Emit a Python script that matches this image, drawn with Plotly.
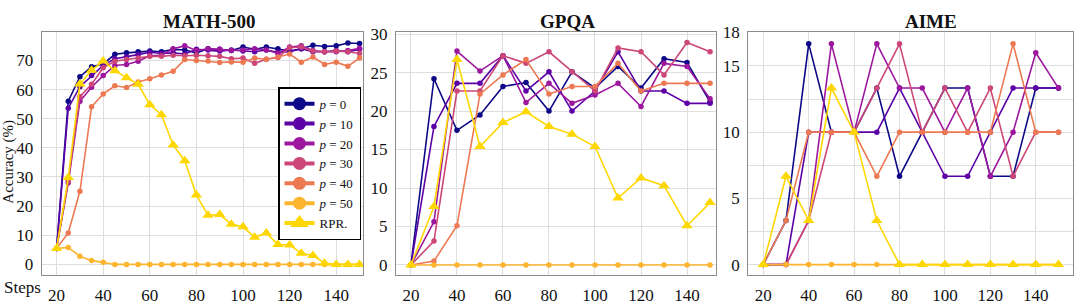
import plotly.graph_objects as go

# ---------------- data ----------------
steps_math = list(range(20, 155, 5))
steps_gpqa = list(range(20, 160, 10))
steps_aime = list(range(20, 160, 10))

series_names = ["<i>p</i> = 0", "<i>p</i> = 10", "<i>p</i> = 20", "<i>p</i> = 30",
                "<i>p</i> = 40", "<i>p</i> = 50", "RPR."]
colors = ["#0d0887", "#5c01a6", "#9c179e", "#cc4778", "#ed7953", "#fdb42f", "#ffd700"]

math_p0 = [5.5, 56.0, 64.4, 67.8, 68.8, 72.1, 72.6, 73.0, 73.2, 73.0, 73.8, 73.6, 72.6, 74.0,
           73.8, 73.4, 74.6, 73.8, 74.6, 74.0, 73.2, 74.0, 75.2, 74.8, 75.0, 76.0, 75.8]
math_p10 = [5.5, 53.6, 61.0, 64.8, 68.3, 70.6, 71.2, 72.0, 72.8, 72.4, 72.6, 72.2, 73.8, 73.6,
            73.2, 73.6, 73.2, 73.0, 73.6, 72.8, 73.0, 74.0, 73.0, 73.0, 73.4, 73.0, 73.8]
math_p20 = [5.5, 28.0, 56.0, 60.8, 64.8, 68.3, 68.6, 69.7, 71.6, 71.8, 74.0, 75.0, 73.4, 74.0,
            73.8, 73.4, 73.6, 74.0, 73.6, 72.4, 74.6, 75.0, 73.4, 73.0, 73.0, 73.4, 74.2]
math_p30 = [5.5, 28.5, 57.6, 61.8, 67.5, 69.7, 70.3, 70.8, 71.4, 71.4, 71.8, 71.6, 71.8, 71.6,
            71.4, 70.6, 70.8, 69.0, 70.4, 71.0, 74.4, 74.6, 73.2, 73.0, 73.2, 73.0, 72.4]
math_p40 = [5.5, 10.8, 25.1, 54.1, 58.5, 61.3, 60.7, 62.6, 63.7, 65.0, 66.3, 70.3, 70.0, 69.8,
            69.3, 69.5, 69.4, 70.8, 70.4, 71.2, 72.2, 69.4, 71.2, 68.6, 69.4, 68.0, 70.8]
math_p50 = [5.5, 5.8, 2.8, 1.3, 0.7, 0, 0, 0, 0, 0, 0, 0, 0, 0,
            0, 0, 0, 0, 0, 0, 0, 0, 0, 0, 0, 0, 0]
math_rpr = [5.5, 29.8, 61.9, 66.6, 69.8, 66.5, 64.1, 61.8, 54.8, 51.4, 41.0, 35.6, 23.8, 16.9,
            17.1, 13.8, 12.9, 9.3, 10.8, 6.8, 6.7, 3.8, 3.1, 0.4, 0, 0, 0]

gpqa_p0 = [0, 24.2, 17.5, 19.5, 23.2, 23.7, 20.0, 25.1, 23.0, 25.8, 23.0, 26.8, 26.3, 21.2]
gpqa_p10 = [0, 18.0, 23.6, 23.6, 27.2, 22.6, 25.1, 20.0, 22.6, 27.7, 22.6, 22.6, 21.0, 21.0]
gpqa_p20 = [0, 5.6, 27.8, 25.2, 27.2, 21.1, 23.6, 21.0, 22.1, 23.6, 20.6, 26.2, 25.8, 21.6]
gpqa_p30 = [0, 3.1, 22.6, 22.6, 27.2, 26.2, 27.7, 25.1, 22.6, 28.2, 27.7, 24.7, 28.9, 27.7]
gpqa_p40 = [0, 0.5, 5.1, 22.2, 24.7, 26.7, 22.2, 23.2, 23.2, 26.2, 22.6, 23.6, 23.6, 23.6]
gpqa_p50 = [0, 0, 0, 0, 0, 0, 0, 0, 0, 0, 0, 0, 0, 0]
gpqa_rpr = [0, 7.6, 26.7, 15.4, 18.5, 19.9, 18.0, 17.0, 15.4, 8.7, 11.3, 10.3, 5.1, 8.1]

aime_p0 = [0, 3.33, 16.67, 10, 10, 13.33, 6.67, 10, 13.33, 13.33, 6.67, 6.67, 13.33, 13.33]
aime_p10 = [0, 0, 10, 10, 10, 10, 13.33, 10, 6.67, 6.67, 10, 13.33, 13.33, 13.33]
aime_p20 = [0, 0, 3.33, 16.67, 10, 16.67, 13.33, 13.33, 10, 13.33, 6.67, 10, 16.0, 13.33]
aime_p30 = [0, 0, 3.33, 10, 10, 13.33, 16.67, 10, 13.33, 10, 13.33, 6.67, 10, 10]
aime_p40 = [0, 3.33, 10, 10, 10, 6.67, 10, 10, 10, 10, 10, 16.67, 10, 10]
aime_p50 = [0, 0, 0, 0, 0, 0, 0, 0, 0, 0, 0, 0, 0, 0]
aime_rpr = [0, 6.67, 3.33, 13.33, 10, 3.33, 0, 0, 0, 0, 0, 0, 0, 0]

math_ticks = [0, 10, 20, 30, 40, 50, 60, 70]
gpqa_ticks = [0, 5, 10, 15, 20, 25, 30]
aime_ticks = [0, 5, 10, 15, 17.55]
aime_ticktext = ["0", "5", "10", "15", "18"]
x_ticks = [20, 40, 60, 80, 100, 120, 140]

panels = [
    ("MATH-500", steps_math, [math_p0, math_p10, math_p20, math_p30, math_p40, math_p50, math_rpr]),
    ("GPQA", steps_gpqa, [gpqa_p0, gpqa_p10, gpqa_p20, gpqa_p30, gpqa_p40, gpqa_p50, gpqa_rpr]),
    ("AIME", steps_aime, [aime_p0, aime_p10, aime_p20, aime_p30, aime_p40, aime_p50, aime_rpr]),
]

W, H = 1080, 305
FONT = "Liberation Serif"

fig = go.Figure()

for pi, (title, xs, ys_list) in enumerate(panels):
    xa = "x" if pi == 0 else f"x{pi+1}"
    ya = "y" if pi == 0 else f"y{pi+1}"
    for si, ys in enumerate(ys_list):
        is_rpr = si == 6
        fig.add_trace(go.Scatter(
            x=xs, y=ys, xaxis=xa, yaxis=ya, mode="lines+markers",
            name=series_names[si], showlegend=False,
            line=dict(color=colors[si], width=1.6),
            marker=dict(color=colors[si], size=10 if is_rpr else 5.5,
                        symbol="triangle-up" if is_rpr else "circle"),
        ))

# legend-only entries (large markers as in the reference legend)
for si in range(7):
    is_rpr = si == 6
    fig.add_trace(go.Scatter(
        x=[None], y=[None], xaxis="x", yaxis="y", mode="lines+markers",
        name=series_names[si], showlegend=True,
        line=dict(color=colors[si], width=4),
        marker=dict(color=colors[si], size=16 if is_rpr else 13,
                    symbol="triangle-up" if is_rpr else "circle"),
    ))

# plot-area geometry (pixels)
top_px, bot_px = 24.3, 279.0
ydom = [1 - bot_px / H, 1 - top_px / H]
xdoms = [[41.7 / W, 363 / W], [396 / W, 716 / W], [748.3 / W, 1073 / W]]
xranges = [[13.6, 151.5], [13.5, 152.6], [13.4, 156.4]]
yranges = [[-3.7, 79.7], [-1.33, 30.25], [-0.8, 17.55]]

grid = "#dedede"
frame = "#8c8c8c"
tickfont = dict(family=FONT, size=17, color="#111")

layout = dict(
    width=W, height=H, margin=dict(l=0, r=0, t=0, b=0),
    paper_bgcolor="white", plot_bgcolor="white",
    font=dict(family=FONT, color="#111"),
    showlegend=True,
    legend=dict(x=278 / W, y=1 - 82 / H, xanchor="left", yanchor="top",
                bgcolor="white", bordercolor="black", borderwidth=1.5,
                font=dict(family=FONT, size=13, color="#111"),
                tracegroupgap=0, itemwidth=30),
)

for pi in range(3):
    sx = "" if pi == 0 else str(pi + 1)
    xa = dict(domain=xdoms[pi], range=xranges[pi], anchor="y" + sx,
              tickvals=x_ticks, ticks="", showgrid=True, gridcolor=grid, gridwidth=1,
              showline=True, linecolor=frame, linewidth=1.2, mirror=True,
              zeroline=False, tickfont=tickfont, ticklabelstandoff=4)
    ya = dict(domain=ydom, range=yranges[pi], anchor="x" + sx,
              ticks="", showgrid=True, gridcolor=grid, gridwidth=1,
              showline=True, linecolor=frame, linewidth=1.2, mirror=True,
              zeroline=False, tickfont=tickfont, ticklabelstandoff=4)
    if pi == 0:
        ya["tickvals"] = math_ticks
    elif pi == 1:
        ya["tickvals"] = gpqa_ticks
    else:
        ya["tickvals"] = aime_ticks
        ya["ticktext"] = aime_ticktext
        ya["minor"] = dict(tickmode="linear", tick0=0, dtick=2.5, showgrid=True,
                           gridcolor=grid, ticks="")
    layout["xaxis" + sx] = xa
    layout["yaxis" + sx] = ya

fig.update_layout(**layout)

title_x = [209, 567, 931]
for pi, (title, _, _) in enumerate(panels):
    fig.add_annotation(x=title_x[pi] / W, y=1 - 13.5 / H, xref="paper", yref="paper",
                       text=f"<b>{title}</b>", showarrow=False,
                       font=dict(family=FONT, size=19, color="#111"),
                       xanchor="center", yanchor="middle")

fig.add_annotation(x=22 / W, y=1 - 292 / H, xref="paper", yref="paper", text="Steps",
                   showarrow=False, font=dict(family=FONT, size=17, color="#111"),
                   xanchor="center", yanchor="middle")
fig.add_annotation(x=9 / W, y=1 - 160 / H, xref="paper", yref="paper", text="Accuracy (%)",
                   textangle=-90, showarrow=False,
                   font=dict(family=FONT, size=15, color="#111"),
                   xanchor="center", yanchor="middle")

fig.write_html("out.html", config={"displayModeBar": False},
               post_script="document.body.style.margin='0';")
